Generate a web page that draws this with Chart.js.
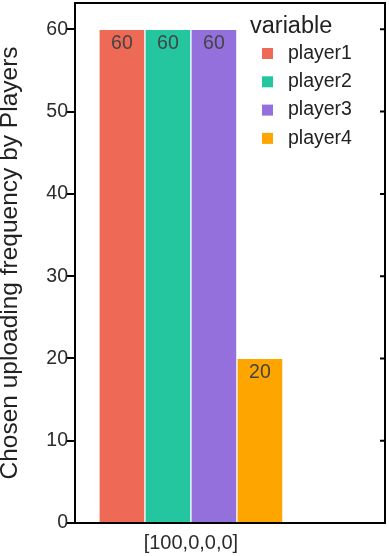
<!DOCTYPE html>
<html>
<head>
<meta charset="utf-8">
<script src="https://cdn.jsdelivr.net/npm/chart.js@4.4.0/dist/chart.umd.min.js"></script>
<style>
html, body { margin: 0; padding: 0; background: #fff; }
#wrap { width: 389px; height: 556px; }
</style>
</head>
<body>
<div id="wrap"><canvas id="chart" width="389" height="556"></canvas></div>
<script>
const categories = ['[100,0,0,0]'];
const players = ['player1', 'player2', 'player3', 'player4'];
const uploadFreq = [60, 60, 60, 20];
const playerColors = ['#EE6A56', '#23C69E', '#9370DB', '#FFA500'];
const yTicks = [0, 10, 20, 30, 40, 50, 60];

const FONT = '"Liberation Sans", Arial, sans-serif';

// bars are dodged around the single category at x = 0
const datasets = players.map((name, i) => ({
    label: name,
    data: [{ x: i - (players.length - 1) / 2, y: uploadFreq[i] }],
    backgroundColor: playerColors[i],
    borderColor: 'rgba(255,255,255,0.45)',
    borderWidth: 1,
    grouped: false,
    barPercentage: 1,
    categoryPercentage: 1
}));

const boxPlugin = {
    id: 'box',
    afterDraw(chart) {
        const { ctx, chartArea: a, scales: { y } } = chart;
        ctx.save();

        // value labels inside top of each bar
        ctx.font = '19.5px ' + FONT;
        ctx.fillStyle = '#444';
        ctx.textAlign = 'center';
        ctx.textBaseline = 'middle';
        chart.data.datasets.forEach((ds, i) => {
            const bar = chart.getDatasetMeta(i).data[0];
            ctx.fillText(String(ds.data[0].y), bar.x, bar.y + 14);
        });

        // top + right border, right ticks point inward
        ctx.strokeStyle = '#000';
        ctx.lineWidth = 2;
        ctx.beginPath();
        ctx.moveTo(a.left - 1, a.top);
        ctx.lineTo(a.right, a.top);
        ctx.lineTo(a.right, a.bottom + 1);
        yTicks.forEach(v => {
            const py = y.getPixelForValue(v);
            ctx.moveTo(a.right - 5, py);
            ctx.lineTo(a.right, py);
        });
        ctx.stroke();

        // legend
        ctx.textAlign = 'left';
        ctx.textBaseline = 'alphabetic';
        ctx.fillStyle = '#222';
        ctx.font = '23.5px ' + FONT;
        ctx.fillText('variable', 250, 33);
        ctx.font = '19.5px ' + FONT;
        chart.data.datasets.forEach((ds, i) => {
            const cy = 53.5 + i * 28.3;
            ctx.fillStyle = ds.backgroundColor;
            ctx.fillRect(262, cy - 5.5, 11, 11);
            ctx.fillStyle = '#222';
            ctx.textBaseline = 'middle';
            ctx.fillText(ds.label, 288, cy);
        });
        ctx.restore();
    }
};

new Chart(document.getElementById('chart'), {
    type: 'bar',
    data: { datasets },
    options: {
        responsive: false,
        animation: false,
        layout: { padding: { top: 3, right: 4, left: 0, bottom: 0 } },
        plugins: {
            legend: { display: false },
            tooltip: { enabled: false }
        },
        scales: {
            x: {
                type: 'linear',
                min: -2.52,
                max: 4.22,
                offset: false,
                afterBuildTicks: axis => { axis.ticks = categories.map((c, i) => ({ value: i })); },
                afterFit: scale => {
                    scale.height = 33;
                    scale.paddingLeft = 0;
                    scale.paddingRight = 0;
                },
                grid: { display: false, offset: false },
                border: { display: true, color: '#000', width: 2 },
                ticks: {
                    callback: (v, i) => categories[i],
                    font: { family: FONT, size: 20 },
                    color: '#2b2b2b',
                    padding: 0,
                    maxRotation: 0
                }
            },
            y: {
                min: 0,
                max: 63.2,
                afterBuildTicks: axis => { axis.ticks = yTicks.map(v => ({ value: v })); },
                afterFit: scale => {
                    scale.width = 75;
                    scale.paddingTop = 0;
                    scale.paddingBottom = 0;
                },
                grid: { display: true, drawOnChartArea: false, drawTicks: true, tickLength: 8, color: '#000', lineWidth: 2 },
                border: { display: true, color: '#000', width: 2 },
                ticks: {
                    font: { family: FONT, size: 19.5 },
                    color: '#2b2b2b',
                    padding: -1
                },
                title: {
                    display: true,
                    text: 'Chosen uploading frequency by Players',
                    font: { family: FONT, size: 24.5, lineHeight: 1 },
                    color: '#222',
                    padding: { top: -2, bottom: 0 }
                }
            }
        }
    },
    plugins: [boxPlugin]
});
</script>
</body>
</html>
